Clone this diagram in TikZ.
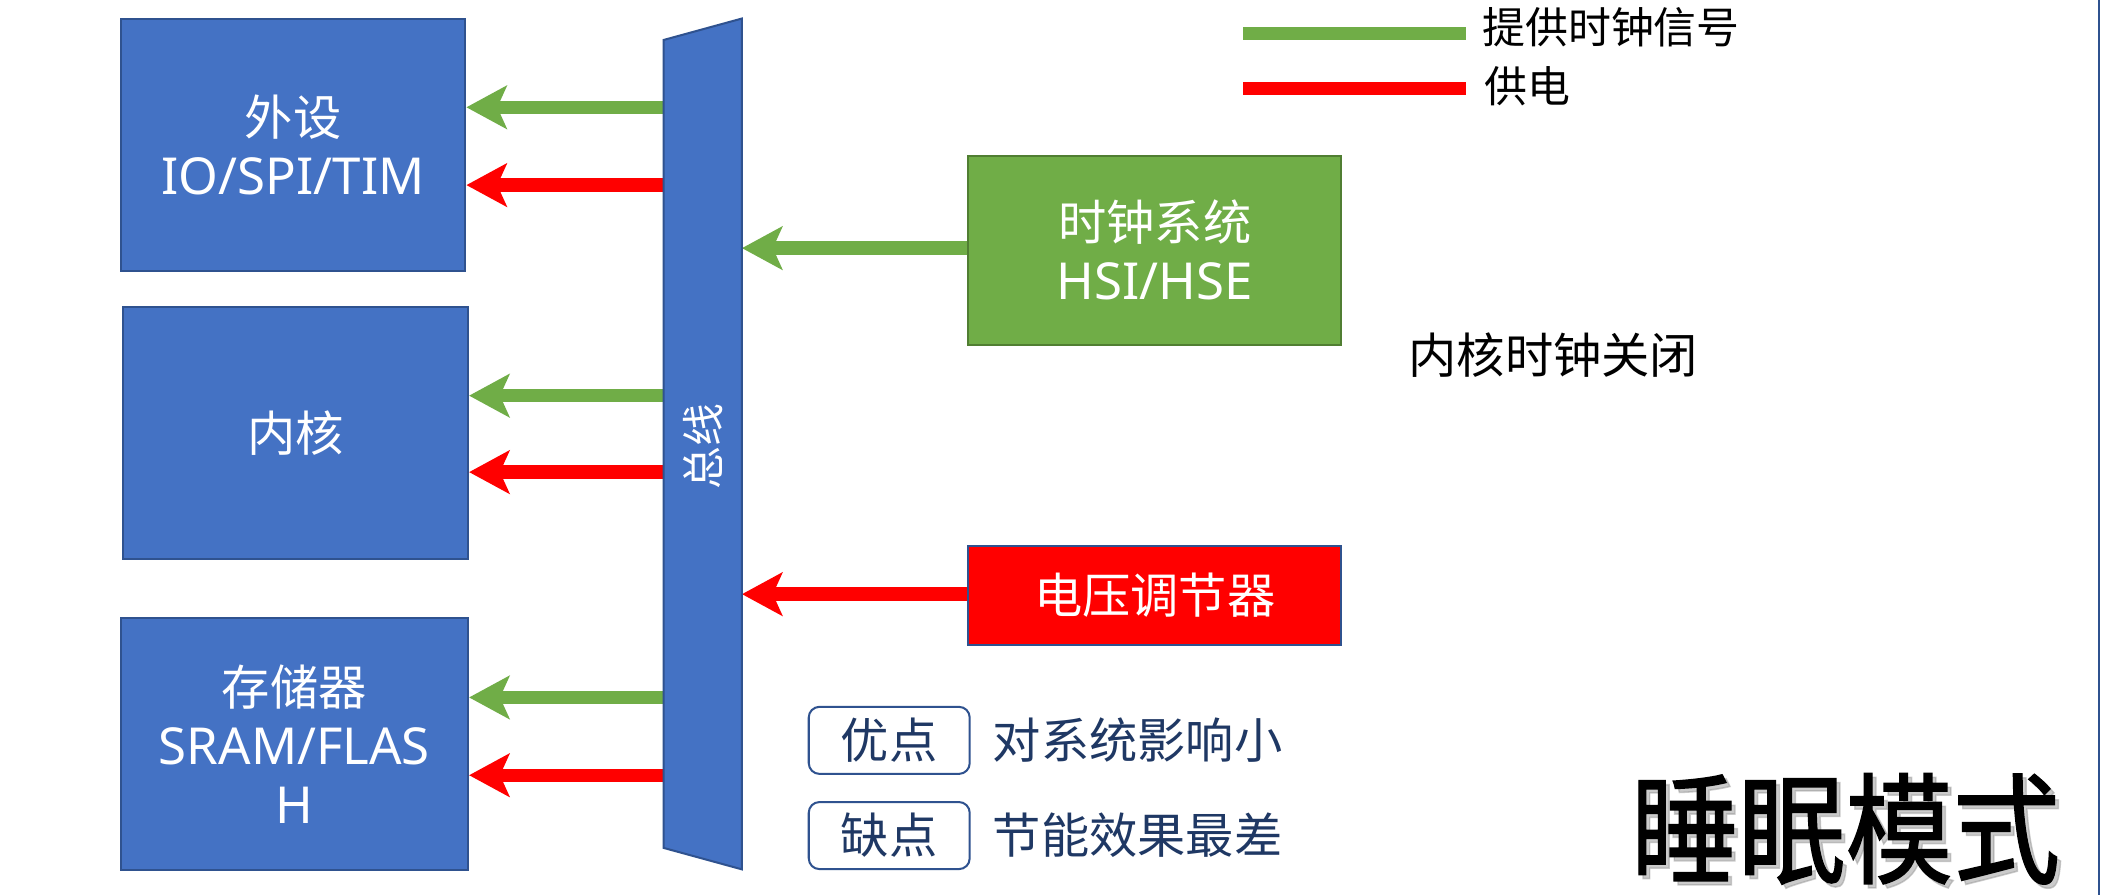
\documentclass[tikz,border=0pt]{standalone}
\usepackage{fontspec}
\setmainfont{Noto Sans CJK SC}
\newfontfamily\lat{Noto Sans}
\newfontfamily\titlefont[FakeBold=1.3]{Noto Sans CJK SC}
\usetikzlibrary{arrows.meta,calc}
\definecolor{boxblue}{HTML}{4472C4}
\definecolor{bordblue}{HTML}{2F528F}
\definecolor{clkgreen}{HTML}{70AD47}
\definecolor{bordgreen}{HTML}{507E32}
\definecolor{navy}{HTML}{1F3864}
\definecolor{pwrred}{HTML}{FF0000}
\newcommand{\latx}{\lat\fontsize{38}{44}\selectfont}
\begin{document}
\begin{tikzpicture}[x=1pt,y=-1pt,
  bigfont/.style={font=\fontsize{36}{44}\selectfont},
  blk/.style={draw=bordblue,line width=1.5pt,fill=boxblue,text=white,align=center,inner sep=0pt,bigfont},
  clkbox/.style={draw=bordgreen,line width=1.5pt,fill=clkgreen,text=white,align=center,inner sep=0pt,bigfont},
  pwrbox/.style={draw=bordblue,line width=1.5pt,fill=pwrred,text=white,align=center,inner sep=0pt,bigfont},
  tagbox/.style={draw=bordblue,line width=1.5pt,rounded corners=8pt,text=navy,inner sep=0pt,minimum width=120pt,minimum height=50pt,bigfont},
  tagtext/.style={anchor=west,text=navy,inner sep=0pt,bigfont},
  legtext/.style={anchor=west,text=black,inner sep=0pt,font=\fontsize{32}{38}\selectfont},
  tipshape/.style={-{Stealth[length=30pt,width=32pt,inset=7pt]}},
  garrow/.style={draw=clkgreen,line width=10pt,tipshape},
  rarrow/.style={draw=pwrred,line width=10pt,tipshape},
  busshape/.style={draw=bordblue,line width=1.5pt,fill=boxblue,line join=miter}
]
\fill[white] (0,0) rectangle (1568,667);
\useasboundingbox (0,0) rectangle (1568,667);

% left blocks
\node[blk,minimum width=257pt,minimum height=188pt] (per) at (218.5,108) {外设\\{\latx IO/SPI/TIM}};
\node[blk,minimum width=257pt,minimum height=188pt] (core) at (220.5,323) {内核};
\node[blk,minimum width=259pt,minimum height=188pt] (mem) at (219.5,555) {存储器\\{\latx SRAM/FLAS}\\{\latx H}};

% right blocks
\node[clkbox,minimum width=278pt,minimum height=141pt] (clk) at (861,186.5) {时钟系统\\{\latx HSI/HSE}};
\node[pwrbox,minimum width=278pt,minimum height=74pt] (vreg) at (861,444) {电压调节器};

% bus anchor holder
\node[minimum width=58pt,minimum height=634pt,inner sep=0pt] (bus) at (524,331) {};

% arrow rows
\coordinate (g1) at (0,80);
\coordinate (r1) at (0,138);
\coordinate (g2) at (0,295);
\coordinate (r2) at (0,352);
\coordinate (g3) at (0,520);
\coordinate (r3) at (0,578);
\coordinate (gc) at (0,185);
\coordinate (rc) at (0,443);

\draw[garrow] (bus.west |- g1) -- (per.east |- g1);
\draw[rarrow] (bus.west |- r1) -- (per.east |- r1);
\draw[garrow] (bus.west |- g2) -- (core.east |- g2);
\draw[rarrow] (bus.west |- r2) -- (core.east |- r2);
\draw[garrow] (bus.west |- g3) -- (mem.east |- g3);
\draw[rarrow] (bus.west |- r3) -- (mem.east |- r3);
\draw[garrow] (clk.west |- gc) -- (bus.east |- gc);
\draw[rarrow] (vreg.west |- rc) -- (bus.east |- rc);

% bus trapezoid
\draw[busshape] ($(bus.north west)+(0,16)$) -- (bus.north east) -- (bus.south east) -- ($(bus.south west)+(0,-16)$) -- cycle;
\node[rotate=90,text=white,inner sep=0pt,font=\fontsize{32}{38}\selectfont] (bustxt) at (524,333) {总线};

% legend
\node[legtext] (lt1) at (1105,20) {提供时钟信号};
\node[legtext] (lt2) at (1107,64) {供电};
\coordinate (lg1a) at (927,25);
\coordinate (lg1b) at (1093,25);
\coordinate (lg2a) at (927,66);
\coordinate (lg2b) at (1093,66);
\draw[clkgreen,line width=10pt] (lg1a) -- (lg1b);
\draw[pwrred,line width=10pt] (lg2a) -- (lg2b);

% note
\node[anchor=west,inner sep=0pt,bigfont] (note) at (1050,265) {内核时钟关闭};

% pros / cons
\node[tagbox] (pro) at (663,552) {优点};
\node[tagtext] (protxt) at (740,552) {对系统影响小};
\node[tagbox] (con) at (663,623) {缺点};
\node[tagtext] (contxt) at (740,623) {节能效果最差};

% title with shadow
\node[text=black!40,opacity=0.5,inner sep=0pt,font=\titlefont\fontsize{80}{90}\selectfont] (titleshadow) at (1379,621) {\scalebox{1}[1.12]{睡眠模式}};
\node[text=black,inner sep=0pt,font=\titlefont\fontsize{80}{90}\selectfont] (title) at (1376,618) {\scalebox{1}[1.12]{睡眠模式}};

% right edge line
\coordinate (edgeT) at (1565,0);
\coordinate (edgeB) at (1565,667);
\draw[bordblue,line width=2pt] (edgeT) -- (edgeB);
\end{tikzpicture}
\end{document}
